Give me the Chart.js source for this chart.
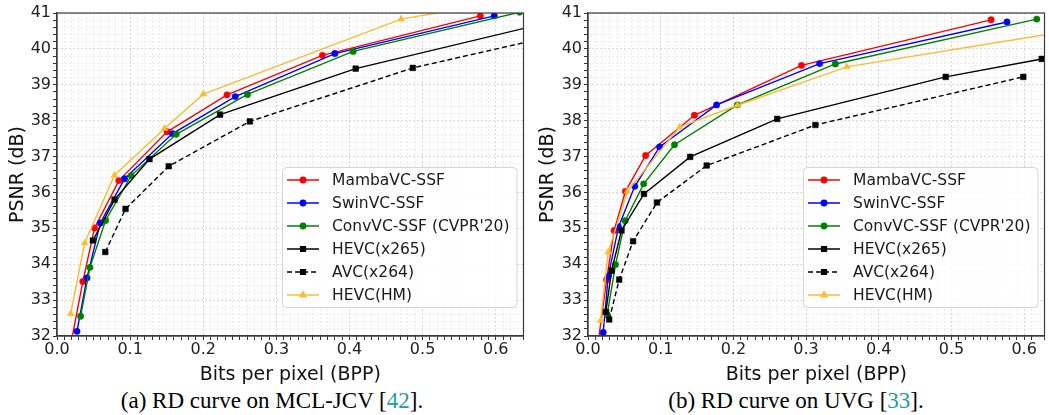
<!DOCTYPE html>
<html>
<head>
<meta charset="utf-8">
<script src="https://cdn.jsdelivr.net/npm/chart.js@4.4.0/dist/chart.umd.min.js"></script>
<style>
  html, body { margin: 0; padding: 0; background: #fff; }
  body { width: 1049px; height: 415px; position: relative; overflow: hidden; }
  canvas { position: absolute; top: 0; }
  #c1 { left: 0; }
  #c2 { left: 530px; }
  .cap { position: absolute; top: 388px; line-height: 26px; font-family: "Liberation Serif", "Times New Roman", serif;
         font-size: 23px; color: #000; white-space: nowrap; transform: translateX(-50%); }
  .cap .ref { color: #269b9b; }
</style>
</head>
<body>
<canvas id="c1" width="528" height="386"></canvas>
<canvas id="c2" width="519" height="386"></canvas>
<div class="cap" style="left:272px">(a) RD curve on MCL-JCV [<span class="ref">42</span>].</div>
<div class="cap" style="left:796px">(b) RD curve on UVG [<span class="ref">33</span>].</div>
<script>
// series labels, same for both panels
const seriesNames = ['MambaVC-SSF', 'SwinVC-SSF', 'ConvVC-SSF (CVPR\'20)', 'HEVC(x265)', 'AVC(x264)', 'HEVC(HM)'];

// MCL-JCV  [bpp, psnr]
const mclMamba = [[0.018, 31.68], [0.0354, 33.52], [0.0514, 35.01], [0.0846, 36.33], [0.1506, 37.69], [0.2325, 38.72], [0.363, 39.82], [0.579, 40.92]];
const mclSwin  = [[0.0273, 32.13], [0.041, 33.62], [0.0592, 35.15], [0.0924, 36.38], [0.158, 37.64], [0.2438, 38.67], [0.380, 39.87], [0.598, 40.92]];
const mclConv  = [[0.0323, 32.55], [0.045, 33.91], [0.0664, 35.22], [0.1015, 36.47], [0.163, 37.62], [0.2606, 38.73], [0.405, 39.93], [0.6326, 41.02]];
const mclX265  = [[0.0491, 34.66], [0.0787, 35.80], [0.1265, 36.93], [0.223, 38.17], [0.4085, 39.45], [0.70, 40.87]];
const mclX264  = [[0.066, 34.34], [0.0937, 35.54], [0.1528, 36.73], [0.2638, 37.98], [0.4866, 39.47], [0.72, 40.55]];
const mclHM    = [[0.0187, 32.62], [0.0378, 34.59], [0.0787, 36.48], [0.147, 37.78], [0.2001, 38.74], [0.4707, 40.83], [0.62, 41.35]];

// UVG  [bpp, psnr]
const uvgMamba = [[0.0125, 31.6], [0.0256, 33.57], [0.036, 34.94], [0.0515, 36.03], [0.0793, 37.03], [0.1464, 38.15], [0.2937, 39.54], [0.5545, 40.81]];
const uvgSwin  = [[0.0209, 32.10], [0.0278, 33.66], [0.042, 35.04], [0.0643, 36.17], [0.0985, 37.27], [0.1769, 38.44], [0.3187, 39.59], [0.5764, 40.75]];
const uvgConv  = [[0.0264, 32.60], [0.0379, 33.99], [0.0511, 35.21], [0.0766, 36.24], [0.119, 37.33], [0.2056, 38.44], [0.3402, 39.58], [0.6174, 40.83]];
const uvgX265  = [[0.0246, 32.67], [0.0324, 33.82], [0.0461, 34.94], [0.077, 35.96], [0.1405, 36.99], [0.2603, 38.05], [0.4921, 39.22], [0.6242, 39.72]];
const uvgX264  = [[0.0292, 32.46], [0.0429, 33.57], [0.062, 34.64], [0.0949, 35.72], [0.1633, 36.75], [0.3128, 37.88], [0.5988, 39.22]];
const uvgHM    = [[0.0173, 32.43], [0.0278, 34.34], [0.0543, 36.03], [0.1259, 37.82], [0.2056, 38.43], [0.356, 39.50], [0.70, 40.63]];

// axis ranges
const yRange = [32, 41];
const xMaxMcl = 0.638;
const xMaxUvg = 0.628;

const colors = ['#ff0000', '#0000ff', '#008000', '#000000', '#000000', '#fbbc33'];
const styles = ['circle', 'circle', 'circle', 'rect', 'rect', 'triangle'];
const radii = [3.2, 3.2, 3.2, 4, 4, 4];
const dashes = [[], [], [], [], [5, 3], []];

const near = (v, step) => Math.abs(v / step - Math.round(v / step)) < 1e-6;

function makeSets(list) {
  return list.map((d, i) => ({
    label: seriesNames[i],
    data: d,
    showLine: true,
    borderColor: colors[i],
    backgroundColor: colors[i],
    borderWidth: 1.4,
    borderDash: dashes[i],
    pointStyle: styles[i],
    pointRadius: radii[i],
    pointBorderWidth: 0.5,
    order: list.length - i
  }));
}

// frame + matplotlib-like legend box inside the plot
const frameLegend = {
  id: 'frameLegend',
  afterDraw(chart) {
    const { ctx, chartArea: a } = chart;
    ctx.save();
    ctx.strokeStyle = '#3a3a3a';
    ctx.lineWidth = 1.2;
    ctx.strokeRect(a.left, a.top, a.right - a.left, a.bottom - a.top);

    ctx.font = '15.5px "DejaVu Sans"';
    const sets = chart.data.datasets;
    const tw = Math.max(...sets.map(d => ctx.measureText(d.label).width));
    const w = 50 + tw + 7, h = 140;
    const x0 = a.right - 7 - w, y0 = a.bottom - 29 - h;
    ctx.beginPath();
    ctx.roundRect(x0 + 0.5, y0 + 0.5, w, h, 4);
    ctx.fillStyle = 'rgba(255,255,255,0.85)';
    ctx.fill();
    ctx.strokeStyle = '#d4d4d4';
    ctx.lineWidth = 1;
    ctx.stroke();

    sets.forEach((d, i) => {
      const y = y0 + 13 + i * 23;
      ctx.strokeStyle = d.borderColor;
      ctx.fillStyle = d.backgroundColor;
      ctx.lineWidth = 1.4;
      ctx.setLineDash(d.borderDash);
      ctx.beginPath();
      ctx.moveTo(x0 + 5, y);
      ctx.lineTo(x0 + 37, y);
      ctx.stroke();
      ctx.setLineDash([]);
      Chart.helpers.drawPoint(ctx, { pointStyle: d.pointStyle, radius: d.pointRadius * 0.85, rotation: 0, borderWidth: 0.5 }, x0 + 21, y);
      ctx.fillStyle = '#1a1a1a';
      ctx.textBaseline = 'middle';
      ctx.textAlign = 'left';
      ctx.fillText(d.label, x0 + 50, y + 1);
    });
    ctx.restore();
  }
};

function makeChart(id, list, xMax, yWidth, padRight) {
  return new Chart(document.getElementById(id), {
    type: 'scatter',
    data: { datasets: makeSets(list) },
    options: {
      responsive: false,
      animation: false,
      layout: { padding: { top: 13, right: padRight, bottom: 0, left: 0 } },
      plugins: { legend: { display: false }, tooltip: { enabled: false } },
      scales: {
        x: {
          type: 'linear', min: 0, max: xMax,
          afterFit: s => { s.height = 50; },
          ticks: {
            stepSize: 0.01, autoSkip: false, maxRotation: 0, padding: 0,
            color: '#222', font: { family: 'DejaVu Sans', size: 16 },
            callback: v => near(v, 0.1) ? v.toFixed(1) : ''
          },
          grid: {
            color: c => c.tick && near(c.tick.value, 0.1) ? '#d6d6d6' : '#ececec',
            tickColor: '#333', tickLength: 4, lineWidth: 1
          },
          border: { color: '#3a3a3a', width: 1.2, dash: [2, 2] },
          title: { display: true, text: 'Bits per pixel (BPP)', color: '#111',
                   font: { family: 'DejaVu Sans', size: 19 }, padding: { top: 0, bottom: 0 } }
        },
        y: {
          min: yRange[0], max: yRange[1],
          afterFit: s => { s.width = yWidth; },
          ticks: {
            stepSize: 0.2, autoSkip: false, padding: 2,
            color: '#222', font: { family: 'DejaVu Sans', size: 16 },
            callback: v => near(v, 1) ? String(Math.round(v)) : ''
          },
          grid: {
            color: c => c.tick && near(c.tick.value, 1) ? '#d6d6d6' : '#ececec',
            tickColor: '#333', tickLength: 4, lineWidth: 1
          },
          border: { color: '#3a3a3a', width: 1.2, dash: [2, 2] },
          title: { display: true, text: 'PSNR (dB)', color: '#111',
                   font: { family: 'DejaVu Sans', size: 19 }, padding: { top: 7, bottom: 0 } }
        }
      }
    },
    plugins: [frameLegend]
  });
}

makeChart('c1', [mclMamba, mclSwin, mclConv, mclX265, mclX264, mclHM], xMaxMcl, 57, 3);
makeChart('c2', [uvgMamba, uvgSwin, uvgConv, uvgX265, uvgX264, uvgHM], xMaxUvg, 58, 2);
</script>
</body>
</html>
